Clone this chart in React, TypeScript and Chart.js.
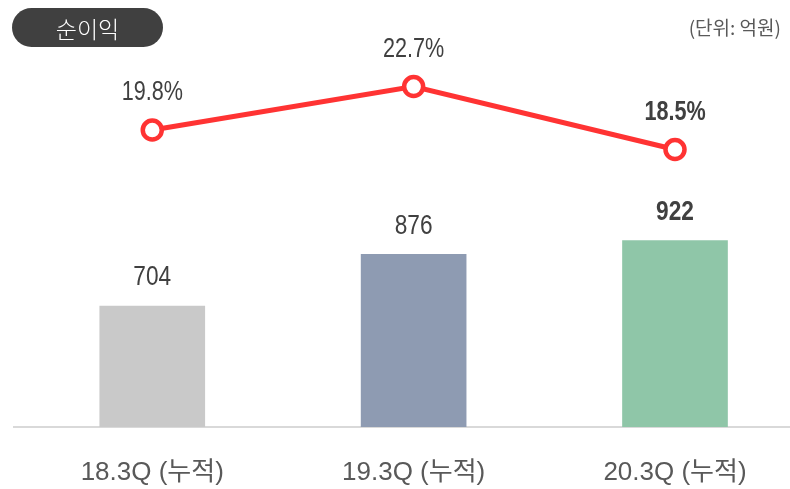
import React, { useEffect, useRef } from "react";
import { Chart, registerables } from "chart.js";

Chart.register(...registerables);

const categories = ["18.3Q (누적)", "19.3Q (누적)", "20.3Q (누적)"];
const profitValues = [704, 876, 922];
const marginValues = [19.8, 22.7, 18.5];
const barColors = ["#C9C9C9", "#8E9BB2", "#8FC6A8"];
const boldIndex = 2;

const FONT = "'Liberation Sans', Arial, 'Noto Sans CJK KR', sans-serif";

function drawNarrow(ctx: any, text: string, x: number, y: number, sx: number) {
  ctx.save();
  ctx.translate(x, y);
  ctx.scale(sx, 1);
  ctx.fillText(text, 0, 0);
  ctx.restore();
}

const labelPlugin = {
  id: "valueLabels",
  afterDatasetsDraw(chart: any) {
    const ctx = chart.ctx;
    ctx.save();
    ctx.textAlign = "center";
    ctx.textBaseline = "middle";
    ctx.fillStyle = "#404040";
    chart.data.datasets.forEach((ds: any, di: number) => {
      const meta = chart.getDatasetMeta(di);
      meta.data.forEach((el: any, i: number) => {
        const bold = i === boldIndex ? "bold " : "";
        ctx.font = `${bold}27px ${FONT}`;
        if (ds.type === "bar") {
          drawNarrow(ctx, String(profitValues[i]), el.x, el.y - 28, 0.84);
        } else {
          drawNarrow(ctx, marginValues[i].toFixed(1) + "%", el.x, el.y - 37, 0.8);
        }
      });
    });
    ctx.restore();
  },
};

export default function App() {
  const ref = useRef<HTMLCanvasElement | null>(null);
  useEffect(() => {
    if (!ref.current) return;
    const chart = new Chart(ref.current, {
      data: {
        datasets: [
          {
            type: "line",
            data: marginValues.map((v, i) => ({ x: i, y: v })),
            yAxisID: "y1",
            borderColor: "#FF3333",
            borderWidth: 5,
            pointRadius: 9.5,
            pointBorderWidth: 4.5,
            pointBackgroundColor: "#FFFFFF",
            pointBorderColor: "#FF3333",
            order: 0,
          },
          {
            type: "bar",
            data: profitValues.map((v, i) => ({ x: i, y: v })),
            yAxisID: "y",
            backgroundColor: barColors,
            barThickness: 105,
            order: 1,
          },
        ],
      } as any,
      options: {
        animation: false,
        responsive: true,
        maintainAspectRatio: false,
        layout: { autoPadding: false, padding: { top: 60, left: 14, right: 0, bottom: 0 } },
        plugins: { legend: { display: false }, tooltip: { enabled: false } },
        scales: {
          x: {
            type: "linear",
            offset: false,
            min: -0.529,
            max: 2.44,
            grid: { display: false, drawTicks: false, offset: false },
            border: { color: "#D9D9D9", width: 2 },
            ticks: {
              stepSize: 1,
              autoSkip: false,
              maxRotation: 0,
              padding: 30,
              color: "#595959",
              font: { size: 26, family: FONT },
              callback: (v: any) =>
                Number.isInteger(v) && v >= 0 && v < categories.length ? categories[v] : "",
            },
            afterFit: (s: any) => {
              s.height = 62;
              s.paddingLeft = 0;
              s.paddingRight = 0;
            },
          },
          y: { display: false, min: 300, max: 1525 },
          y1: { display: false, min: 0, max: 24.47 },
        },
      } as any,
      plugins: [labelPlugin],
    });
    return () => chart.destroy();
  }, []);

  return (
    <div style={{ position: "fixed", left: 0, top: 0, width: 790, height: 489, background: "#fff" }}>
      <canvas ref={ref} />
      <div
        style={{
          position: "absolute",
          left: 12,
          top: 8,
          width: 151,
          height: 39,
          borderRadius: 20,
          background: "#404040",
          color: "#fff",
          fontFamily: "'Noto Sans CJK KR', sans-serif",
          fontSize: 23,
          fontWeight: 300,
          display: "flex",
          alignItems: "center",
          justifyContent: "center",
        }}
      >
        순이익
      </div>
      <div
        style={{
          position: "absolute",
          right: 9,
          top: 13,
          color: "#595959",
          fontFamily: "'Noto Sans CJK KR', sans-serif",
          fontSize: 19,
        }}
      >
        (단위: 억원)
      </div>
    </div>
  );
}
